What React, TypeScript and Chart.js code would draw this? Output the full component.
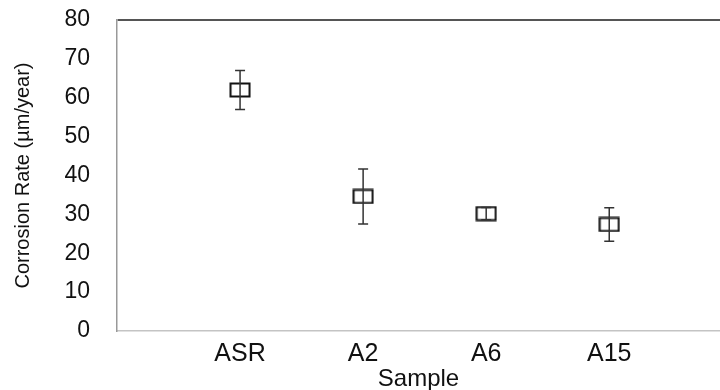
import React, { useEffect, useRef } from 'react';
import { Chart, registerables } from 'chart.js';

Chart.register(...registerables);

const categories = ['ASR', 'A2', 'A6', 'A15'];
const positions = [1, 2, 3, 4];
const meanRate = [62, 34.6, 30.2, 27.4];
const errorRate = [5, 7.1, 1.6, 4.3];
const yMin = 0;
const yMax = 80;
const yStep = 10;

const FONT = "'Liberation Sans', Arial, sans-serif";

function makeMarker(): HTMLCanvasElement {
  const c = document.createElement('canvas');
  c.width = 22;
  c.height = 16;
  const g = c.getContext('2d')!;
  g.strokeStyle = '#111';
  g.lineWidth = 2;
  g.strokeRect(1.5, 1.5, 19, 13);
  return c;
}

const errorBarPlugin = {
  id: 'errorBars',
  afterDatasetsDraw(chart: any) {
    const { ctx, scales } = chart;
    const x = scales.x;
    const y = scales.y;
    ctx.save();
    ctx.strokeStyle = '#333';
    ctx.lineWidth = 1.5;
    positions.forEach((p, i) => {
      const px = x.getPixelForValue(p);
      const top = y.getPixelForValue(meanRate[i] + errorRate[i]);
      const bot = y.getPixelForValue(meanRate[i] - errorRate[i]);
      ctx.beginPath();
      ctx.moveTo(px, top);
      ctx.lineTo(px, bot);
      ctx.moveTo(px - 5, top);
      ctx.lineTo(px + 5, top);
      ctx.moveTo(px - 5, bot);
      ctx.lineTo(px + 5, bot);
      ctx.stroke();
    });
    ctx.restore();
  },
};

export default function App() {
  const ref = useRef<HTMLCanvasElement>(null);

  useEffect(() => {
    document.body.style.margin = '0';
    const marker = makeMarker();
    const chart = new Chart(ref.current!, {
      type: 'scatter',
      data: {
        datasets: [
          {
            data: positions.map((p, i) => ({ x: p, y: meanRate[i] })),
            pointStyle: marker as any,
            pointRadius: 10,
            showLine: false,
          },
        ],
      },
      options: {
        animation: false,
        responsive: false,
        layout: { autoPadding: false, padding: { top: 20, left: 0, right: 0, bottom: 0 } },
        plugins: { legend: { display: false }, tooltip: { enabled: false } },
        scales: {
          x: {
            type: 'linear',
            min: 0,
            max: 4.9,
            afterBuildTicks: (axis: any) => {
              axis.ticks = positions.map((v) => ({ value: v }));
            },
            afterFit: (s: any) => {
              s.height = 59;
            },
            ticks: {
              padding: 8,
              color: '#111',
              font: { family: FONT, size: 25 },
              callback: (v: any) => {
                const i = positions.indexOf(Number(v));
                return i >= 0 ? categories[i] : '';
              },
            },
            grid: { display: false, drawTicks: false },
            border: { color: '#c4c4c4', width: 1.5 },
            title: {
              display: true,
              text: 'Sample',
              color: '#111',
              font: { family: FONT, size: 24, lineHeight: 1 },
              padding: { top: 0, bottom: -1 },
            },
          },
          y: {
            min: yMin,
            max: yMax,
            afterFit: (s: any) => {
              s.width = 117;
            },
            ticks: {
              stepSize: yStep,
              padding: 0,
              color: '#111',
              font: { family: FONT, size: 23 },
            },
            grid: {
              drawTicks: true,
              tickLength: 27,
              tickColor: 'rgba(0,0,0,0)',
              lineWidth: 2,
              color: (c: any) => (c.tick && c.tick.value === yMax ? '#555' : 'rgba(0,0,0,0)'),
            },
            border: { color: '#999', width: 1.5 },
            title: {
              display: true,
              text: 'Corrosion Rate (µm/year)',
              color: '#111',
              font: { family: FONT, size: 20, lineHeight: 1 },
              padding: { top: 13, bottom: 0 },
            },
          },
        },
      },
      plugins: [errorBarPlugin],
    });
    return () => chart.destroy();
  }, []);

  return (
    <div style={{ width: 720, height: 390, background: '#fff' }}>
      <canvas ref={ref} width={720} height={390} style={{ display: 'block' }} />
    </div>
  );
}
